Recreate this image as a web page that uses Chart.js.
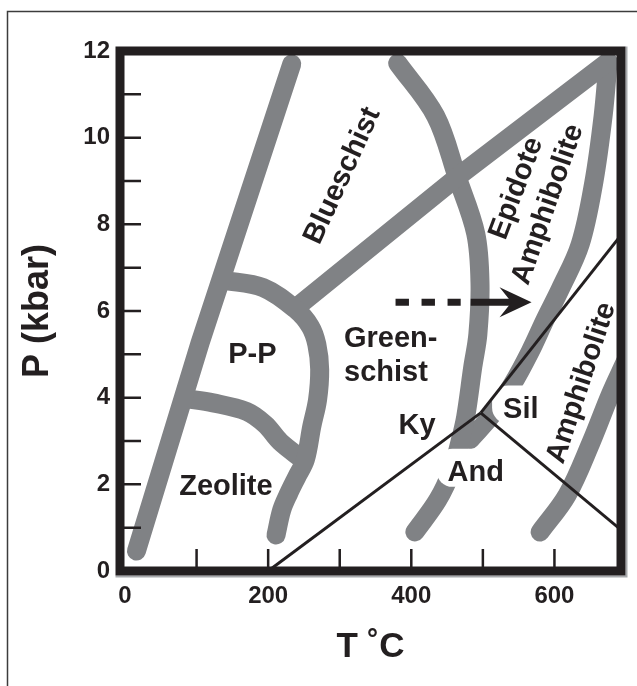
<!DOCTYPE html>
<html>
<head>
<meta charset="utf-8">
<title>Metamorphic facies</title>
<script src="https://cdn.jsdelivr.net/npm/chart.js@4.4.1/dist/chart.umd.min.js"></script>
<style>
  html, body { margin: 0; padding: 0; background: #fff; }
  #wrap { width: 637px; height: 686px; }
</style>
</head>
<body>
<div id="wrap"><canvas id="chart" width="637" height="686"></canvas></div>
<script>
// axis ticks
const xTickValues = [0, 100, 200, 300, 400, 500, 600];
const xTickLabels = ["0", "", "200", "", "400", "", "600"];
const yTickValues = [0, 1, 2, 3, 4, 5, 6, 7, 8, 9, 10, 11, 12];
const yTickLabels = ["0", "", "2", "", "4", "", "6", "", "8", "", "10", "", "12"];

// facies boundaries, T in °C and P in kbar
const zeoliteEdgeT = [16, 105, 233];
const zeoliteEdgeP = [0.46, 5.27, 11.70];
const ppUpperT = [137, 193, 239, 259, 268, 272, 269, 261, 252, 240, 229, 219, 211];
const ppUpperP = [6.71, 6.54, 6.03, 5.64, 5.23, 4.65, 3.95, 3.34, 2.57, 2.17, 1.80, 1.41, 0.83];
const ppLowerT = [84, 123, 170, 196, 217, 250];
const ppLowerP = [3.98, 3.88, 3.68, 3.38, 2.98, 2.55];
const blueschistEdgeT = [239, 464, 675];
const blueschistEdgeP = [6.08, 9.09, 11.75];
const greenschistEdgeT = [381, 434, 464, 490, 496, 493, 486, 476, 468, 457, 437, 405];
const greenschistEdgeP = [11.72, 10.50, 9.09, 7.79, 6.64, 5.46, 4.72, 3.56, 2.98, 2.34, 1.64, 0.90];
const epidoteEdgeT = [675, 668, 655, 636, 608, 587, 566, 541, 513, 482];
const epidoteEdgeP = [11.75, 10.50, 8.97, 7.54, 6.50, 5.80, 5.06, 4.30, 3.61, 3.03];
const amphiboliteEdgeT = [580, 618, 651, 678, 699];
const amphiboliteEdgeP = [0.90, 1.76, 2.96, 4.07, 4.83];

// aluminosilicate phase lines
const kyAndT = [200, 497];
const kyAndP = [0, 3.65];
const kySilT = [497, 693];
const kySilP = [3.65, 7.75];
const andSilT = [497, 693];
const andSilP = [3.65, 0.95];

// path arrow
const arrowDashT = [378, 469];
const arrowLineT = [483, 545];
const arrowTipT = 568;
const arrowP = 6.2;

// field names
const labelText = ["P-P", "Zeolite", "Green-", "schist", "Ky", "Sil", "And", "Blueschist", "Epidote", "Amphibolite", "Amphibolite"];
const labelT = [178, 141, 306, 306, 408, 553, 490, 304, 547, 591, 638];
const labelP = [4.80, 1.76, 5.16, 4.39, 3.17, 3.54, 2.08, 9.12, 8.83, 8.46, 4.34];

const ink = "#231f20";
const band = "#808285";
const fontFamily = "'Liberation Sans', Arial, Helvetica, sans-serif";

// how each label sits: rotation in degrees, alignment, white patch behind
const labelLook = [
  { angle: 0, align: "center" },
  { angle: 0, align: "center" },
  { angle: 0, align: "left" },
  { angle: 0, align: "left" },
  { angle: 0, align: "center" },
  { angle: 0, align: "center", patch: true },
  { angle: 0, align: "center", patch: true },
  { angle: -65.4, align: "center" },
  { angle: -69.3, align: "center" },
  { angle: -70.8, align: "center" },
  { angle: -71.8, align: "center" }
];

function toPoints(ts, ps) {
  return ts.map((t, i) => ({ x: t, y: ps[i] }));
}

function bandLine(ts, ps, tension) {
  return {
    data: toPoints(ts, ps),
    showLine: true,
    borderColor: band,
    borderWidth: 19,
    borderCapStyle: "round",
    borderJoinStyle: "round",
    tension: tension,
    pointRadius: 0,
    clip: 0,
    order: 3,
    isBand: true
  };
}

function phaseLine(ts, ps) {
  return {
    data: toPoints(ts, ps),
    showLine: true,
    borderColor: ink,
    borderWidth: 3,
    tension: 0,
    pointRadius: 0,
    clip: 0,
    order: 1
  };
}

function roundBox(ctx, x0, y0, x1, y1, r) {
  ctx.beginPath();
  ctx.moveTo(x0 + r, y0);
  ctx.arcTo(x1, y0, x1, y1, r);
  ctx.arcTo(x1, y1, x0, y1, r);
  ctx.arcTo(x0, y1, x0, y0, r);
  ctx.arcTo(x0, y0, x1, y0, r);
  ctx.closePath();
}

function drawPatches(chart) {
  const { ctx, scales: { x, y } } = chart;
  ctx.save();
  ctx.font = "bold 29px " + fontFamily;
  ctx.fillStyle = "#ffffff";
  labelText.forEach((text, i) => {
    if (!labelLook[i].patch) return;
    const px = x.getPixelForValue(labelT[i]);
    const py = y.getPixelForValue(labelP[i]);
    const w = ctx.measureText(text).width;
    roundBox(ctx, px - w / 2 - 11, py - 32, px + w / 2 + 2, py + 6, 16);
    ctx.fill();
  });
  ctx.restore();
}

function drawLabels(chart) {
  const { ctx, scales: { x, y } } = chart;
  ctx.save();
  ctx.font = "bold 29px " + fontFamily;
  ctx.fillStyle = ink;
  labelText.forEach((text, i) => {
    const look = labelLook[i];
    ctx.save();
    ctx.translate(x.getPixelForValue(labelT[i]), y.getPixelForValue(labelP[i]));
    if (look.angle) {
      ctx.rotate(look.angle * Math.PI / 180);
      ctx.textBaseline = "middle";
    } else {
      ctx.textBaseline = "alphabetic";
    }
    ctx.textAlign = look.align;
    ctx.fillText(text, 0, 0);
    ctx.restore();
  });
  ctx.restore();
}

function drawArrowHead(chart) {
  const { ctx, scales: { x, y } } = chart;
  const tx = x.getPixelForValue(arrowTipT);
  const ty = y.getPixelForValue(arrowP);
  ctx.save();
  ctx.fillStyle = ink;
  ctx.beginPath();
  ctx.moveTo(tx, ty);
  ctx.lineTo(tx - 32, ty - 15);
  ctx.lineTo(tx - 20, ty);
  ctx.lineTo(tx - 32, ty + 15);
  ctx.closePath();
  ctx.fill();
  ctx.restore();
}

function drawFrame(chart) {
  const { ctx, chartArea: a, scales: { x, y } } = chart;
  ctx.save();
  // soft shadow on right and bottom
  ctx.strokeStyle = "#a7a9ac";
  ctx.lineWidth = 2;
  ctx.beginPath();
  ctx.moveTo(a.right + 5.5, a.top - 4.5);
  ctx.lineTo(a.right + 5.5, a.bottom + 5.5);
  ctx.lineTo(a.left - 4.5, a.bottom + 5.5);
  ctx.stroke();

  ctx.strokeStyle = ink;
  ctx.lineWidth = 9;
  ctx.lineJoin = "miter";
  ctx.strokeRect(a.left, a.top, a.right - a.left, a.bottom - a.top);

  // inward ticks
  ctx.lineWidth = 2.5;
  ctx.beginPath();
  y.ticks.forEach((t) => {
    if (t.value <= 0 || t.value >= 12) return;
    const py = y.getPixelForValue(t.value);
    ctx.moveTo(a.left, py);
    ctx.lineTo(a.left + 21, py);
  });
  x.ticks.forEach((t) => {
    if (t.value <= 0) return;
    const px = x.getPixelForValue(t.value);
    ctx.moveTo(px, a.bottom);
    ctx.lineTo(px, a.bottom - 22);
  });
  ctx.stroke();
  ctx.restore();
}

const faciesPlugin = {
  id: "facies",
  beforeDraw(chart) {
    const ctx = chart.ctx;
    ctx.save();
    ctx.strokeStyle = "#3c3c3c";
    ctx.lineWidth = 1.5;
    ctx.beginPath();
    ctx.moveTo(7.5, chart.height);
    ctx.lineTo(7.5, 11.5);
    ctx.lineTo(chart.width, 11.5);
    ctx.stroke();
    ctx.restore();
  },
  beforeDatasetsDraw(chart) {
    chart.$patchesDone = false;
  },
  beforeDatasetDraw(chart, args) {
    if (chart.$patchesDone || chart.data.datasets[args.index].isBand) return;
    chart.$patchesDone = true;
    drawPatches(chart);
  },
  afterDatasetsDraw(chart) {
    drawArrowHead(chart);
    drawFrame(chart);
    drawLabels(chart);
  }
};

const datasets = [
  bandLine(zeoliteEdgeT, zeoliteEdgeP, 0),
  bandLine(ppUpperT, ppUpperP, 0.35),
  bandLine(ppLowerT, ppLowerP, 0.35),
  bandLine(blueschistEdgeT, blueschistEdgeP, 0),
  bandLine(greenschistEdgeT, greenschistEdgeP, 0.35),
  bandLine(epidoteEdgeT, epidoteEdgeP, 0.35),
  bandLine(amphiboliteEdgeT, amphiboliteEdgeP, 0.35),
  phaseLine(kyAndT, kyAndP),
  phaseLine(kySilT, kySilP),
  phaseLine(andSilT, andSilP),
  {
    data: toPoints(arrowDashT, arrowDashT.map(() => arrowP)),
    showLine: true,
    borderColor: ink,
    borderWidth: 7,
    borderDash: [13.4, 12.6],
    borderCapStyle: "butt",
    pointRadius: 0,
    clip: 0,
    order: 0
  },
  {
    data: toPoints(arrowLineT, arrowLineT.map(() => arrowP)),
    showLine: true,
    borderColor: ink,
    borderWidth: 7,
    borderCapStyle: "butt",
    pointRadius: 0,
    clip: 0,
    order: 0
  }
];

new Chart(document.getElementById("chart"), {
  type: "scatter",
  data: { datasets },
  plugins: [faciesPlugin],
  options: {
    responsive: false,
    animation: false,
    events: [],
    layout: { padding: { top: 51, right: 16, left: 0, bottom: 0 } },
    plugins: {
      legend: { display: false },
      tooltip: { enabled: false }
    },
    scales: {
      x: {
        type: "linear",
        min: -7,
        max: 693,
        afterBuildTicks(scale) {
          scale.ticks = xTickValues.map((v) => ({ value: v }));
        },
        afterFit(scale) {
          scale.height = 115;
        },
        grid: { display: false, drawTicks: false },
        border: { display: false },
        ticks: {
          padding: 11,
          color: ink,
          maxRotation: 0,
          autoSkip: false,
          font: { family: fontFamily, size: 24, weight: "bold" },
          callback(value) {
            const i = xTickValues.indexOf(value);
            return i >= 0 ? xTickLabels[i] : "";
          }
        },
        title: {
          display: true,
          text: "T \u02DAC",
          color: ink,
          padding: { bottom: 18 },
          font: { family: fontFamily, size: 35, weight: "bold" }
        }
      },
      y: {
        type: "linear",
        min: 0,
        max: 12,
        afterBuildTicks(scale) {
          scale.ticks = yTickValues.map((v) => ({ value: v }));
        },
        afterFit(scale) {
          scale.width = 120;
        },
        grid: { display: false, drawTicks: false },
        border: { display: false },
        ticks: {
          padding: 10,
          color: ink,
          autoSkip: false,
          font: { family: fontFamily, size: 24, weight: "bold" },
          callback(value) {
            const i = yTickValues.indexOf(value);
            return i >= 0 ? yTickLabels[i] : "";
          }
        },
        title: {
          display: true,
          text: "P (kbar)",
          color: ink,
          padding: { top: 16 },
          font: { family: fontFamily, size: 36, weight: "bold" }
        }
      }
    }
  }
});
</script>
</body>
</html>
